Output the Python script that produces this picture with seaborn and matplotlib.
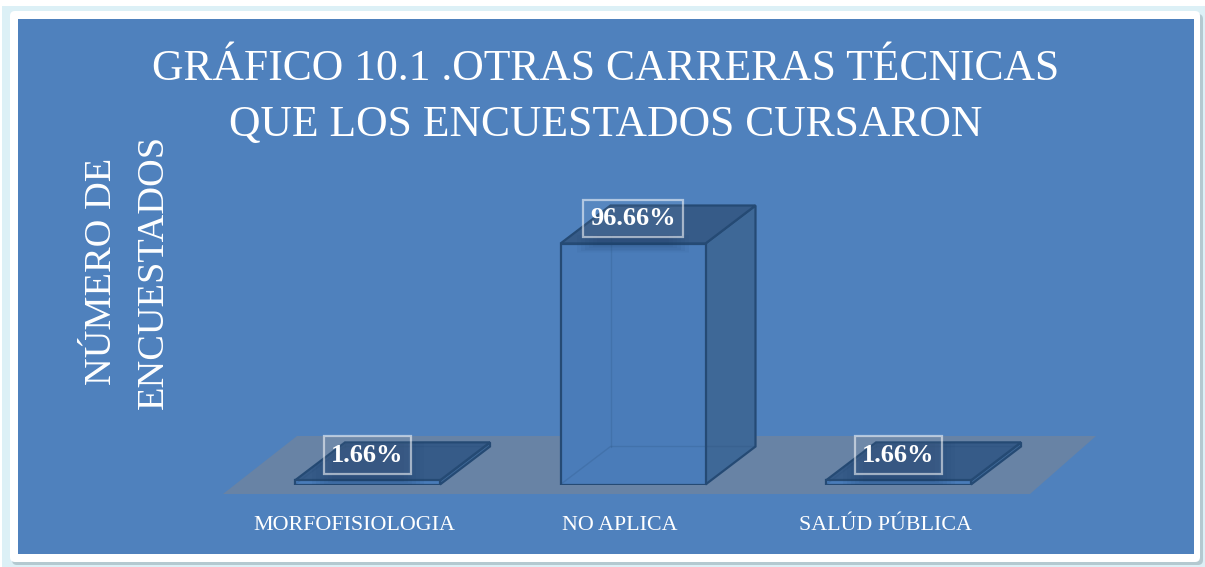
import seaborn as sns
import pandas as pd
import matplotlib.pyplot as plt
from matplotlib.patches import Polygon, Rectangle, FancyBboxPatch
from matplotlib.transforms import ScaledTranslation

categories = ["MORFOFISIOLOGIA", "NO APLICA", "SALÚD PÚBLICA"]
values = [1.66, 96.66, 1.66]

title = "GRÁFICO 10.1 .OTRAS CARRERAS TÉCNICAS\nQUE LOS ENCUESTADOS CURSARON"
y_title = "NÚMERO DE\nENCUESTADOS"

W, H = 1205, 567
BLUE = "#4f81bd"
EDGE = "#254a74"

sns.set_theme(style="white")
plt.rcParams["font.family"] = ["Liberation Serif", "DejaVu Serif"]

fig = plt.figure(figsize=(W / 100, H / 100), dpi=100, facecolor="#dcf0f6")

# background panels and floor, in pixels of the picture
bg = fig.add_axes([0, 0, 1, 1])
bg.set_xlim(0, W)
bg.set_ylim(H, 0)
bg.axis("off")
bg.add_patch(Rectangle((0, 0), W, 6, color="white", lw=0))
bg.add_patch(Rectangle((0, 0), 2, H, color="white", lw=0))
bg.add_patch(FancyBboxPatch((15, 17), 1185, 545, boxstyle="round,pad=3,rounding_size=5",
                            fc="#b4c9d0", ec="none"))
bg.add_patch(FancyBboxPatch((13, 14), 1184, 545, boxstyle="round,pad=3,rounding_size=5",
                            fc="white", ec="none"))
bg.add_patch(Rectangle((18, 19), 1175.5, 534.5, color=BLUE, lw=0))
bg.add_patch(Polygon([(223, 494), (297, 436), (1096, 436), (1030, 494)],
                     closed=True, fc="#6883a5", ec="none"))

# axes set so one category = 265.5 px and 100 units = 249.3 px
px_x = 265.5
px_y = 241 / 96.66
left = 367.5 - px_x / 2
bottom = 484.5
ax = fig.add_axes([left / W, (H - bottom) / H, 3 * px_x / W, 100 * px_y / H])
ax.patch.set_alpha(0)

df = pd.DataFrame({"carrera": categories, "porcentaje": values})
sns.barplot(data=df, x="carrera", y="porcentaje", color="#4a7cb9", saturation=1,
            width=145 / px_x, edgecolor=EDGE, linewidth=1.6, ax=ax, zorder=5)
ax.set_xlim(-0.5, 2.5)
ax.set_ylim(0, 100)
sns.despine(ax=ax, left=True, bottom=True)
ax.set_xlabel("")
ax.set_yticks([])
ax.tick_params(axis="x", length=0, pad=23, colors="white", labelsize=15.8)
for lab in ax.get_xticklabels():
    lab.set_transform(lab.get_transform() + ScaledTranslation(-13 / 100, 0, fig.dpi_scale_trans))
ax.set_ylabel(y_title, color="white", fontsize=27.6, linespacing=1.65)
ax.yaxis.set_label_coords((171 - left) / (3 * px_x), (484 - 271) / (100 * px_y),
                          transform=ax.transAxes)

# fake 3d depth taken from the size of every bar
dx = 50 / px_x
dy = 38 / px_y
for bar in list(ax.patches):
    x0, x1 = bar.get_x(), bar.get_x() + bar.get_width()
    h = bar.get_height()
    ax.add_patch(Polygon([(x1, 0), (x1 + dx, dy), (x1 + dx, h + dy), (x1, h)], closed=True,
                         fc="#3e6897", ec=EDGE, lw=1.6, zorder=3, clip_on=False))
    ax.add_patch(Polygon([(x0, h), (x0 + dx, h + dy), (x1 + dx, h + dy), (x1, h)], closed=True,
                         fc="#365b88", ec=EDGE, lw=1.6, zorder=4, clip_on=False))
    # hidden edges seen through the front face
    ax.plot([x0 + dx, x0 + dx], [dy, h + dy], color=EDGE, alpha=0.2, lw=1, zorder=6)
    ax.plot([x0, x0 + dx, x1 + dx], [0, dy, dy], color=EDGE, alpha=0.2, lw=1, zorder=6)
    # soft shadow under the label, kept on the top face and just below its front edge
    cx = (x0 + x1) / 2
    below = 9 / px_y
    limit = Polygon([(x0, h - below), (x0, h), (x0 + dx, h + dy), (x1 + dx, h + dy),
                     (x1, h), (x1, h - below)], closed=True, transform=ax.transData)
    for grow in range(0, 24, 4):
        shade = Rectangle((cx - (36 + grow) / px_x, h + dy),
                          (72 + 2 * grow) / px_x, -(dy + below * (grow + 4) / 24),
                          fc="#1f3f68", ec="none", alpha=0.06, zorder=7, clip_on=True)
        ax.add_patch(shade)
        shade.set_clip_path(limit)

for bar, val in zip(ax.patches[:3], values):
    ax.annotate(f"{val:.2f}%", (bar.get_x() + bar.get_width() / 2, val),
                xytext=(0, 25), textcoords="offset pixels", ha="center", va="center",
                color="white", fontsize=19, fontweight="bold", zorder=9,
                bbox=dict(boxstyle="square,pad=0.28", fc=(1, 1, 1, 0.05),
                          ec=(1, 1, 1, 0.55), lw=1.6))

fig.text(605.5 / W, 1 - 97 / H, title, color="white", fontsize=31.4, ha="center", va="center",
         linespacing=1.52)

fig.savefig("out.png", dpi=100, facecolor=fig.get_facecolor())
